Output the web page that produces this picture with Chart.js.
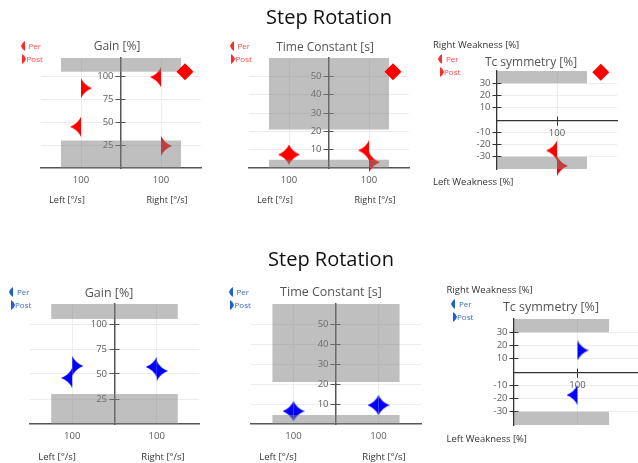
<!DOCTYPE html>
<html>
<head>
<meta charset="utf-8">
<script src="https://cdn.jsdelivr.net/npm/chart.js@4.4.0/dist/chart.umd.min.js"></script>
<style>
body { margin: 0; background: #fff; width: 638px; height: 463px; overflow: hidden; position: relative; font-family: 'Open Sans', sans-serif; }
canvas { position: absolute; }
.t { position: absolute; white-space: nowrap; line-height: 1; }
</style>
</head>
<body>
<script>
// ---- data ----
const sideX = [-1, 1];            // left / right columns
const sideLabels = ['100', '100'];
const symX = [0];
const symLabels = ['100'];

const gainTicks = [25, 50, 75, 100];
const tcTicks = [10, 20, 30, 40, 50];
const symTicks = [30, 20, 10, -10, -20, -30];

const gainNormal = [[0, 30], [105, 120]];
const tcNormal = [[0, 4.5], [21, 60]];
const symNormal = [[-40, -30], [30, 40]];
const boxSpan = [-1.5, 1.5];
const symBoxSpan = [-1, 0.5];

// first session (red)
const gainPerA = [45, 99];
const gainPostA = [87, 24];
const tcPerA = [7.3, 9.6];
const tcPostA = [7.3, 3.1];
const symPerA = [-25];
const symPostA = [-37.5];
const gainFlagA = [{ x: 1.6, y: 105 }];
const tcFlagA = [{ x: 1.6, y: 52.5 }];
const symFlagA = [{ x: 0.73, y: 39 }];

// second session (blue)
const gainPerB = [46, 57];
const gainPostB = [58, 53];
const tcPerB = [6.4, 9.4];
const tcPostB = [6.4, 9.4];
const symPerB = [-17.4];
const symPostB = [16.3];

// ---- helpers ----
const RED = '#ff0000', BLUE = '#0000ff';
const BAND = 'rgba(128,128,128,0.5)';
const FAINT = '#ececec';
const PAD = 30;
const XLAB = 22;   // room kept for the bottom labels
const YLAB = 26;   // room kept for the left labels

Chart.defaults.font.family = "'Open Sans', sans-serif";

function halfStar(color, w, h, dir, k) {
    const c = document.createElement('canvas');
    c.width = 2 * w; c.height = 2 * h;
    const ctx = c.getContext('2d');
    const tipX = dir < 0 ? 0 : 2 * w;
    const cx = w + dir * k * w;
    ctx.fillStyle = color;
    ctx.beginPath();
    ctx.moveTo(w, 0);
    ctx.quadraticCurveTo(cx, h - k * h, tipX, h);
    ctx.quadraticCurveTo(cx, h + k * h, w, 2 * h);
    ctx.closePath();
    ctx.fill();
    return c;
}

function text(str, x, y, size, color, align) {
    const d = document.createElement('div');
    d.className = 't';
    d.textContent = str;
    d.style.left = x + 'px';
    d.style.top = y + 'px';
    d.style.fontSize = size + 'px';
    d.style.color = color;
    d.style.transform = align === 'left' ? 'translate(0,-50%)' : 'translate(-50%,-50%)';
    document.body.appendChild(d);
}

function legend(x, y, icon, txt) {
    const per = halfStar(icon, 4, 5, -1, 0.7);
    const post = halfStar(icon, 4, 5, 1, 0.7);
    per.style.left = (x - 4) + 'px'; per.style.top = (y - 5) + 'px';
    post.style.left = (x - 6.5) + 'px'; post.style.top = (y + 8) + 'px';
    document.body.appendChild(per);
    document.body.appendChild(post);
    text('Per', x + 4, y, 8, txt, 'left');
    text('Post', x + 2, y + 13, 8, txt, 'left');
}

function place(area) {
    const [l, t, w, h] = area;
    const cv = document.createElement('canvas');
    cv.width = w + 2 * PAD;
    cv.height = h + 2 * PAD;
    cv.style.left = (l - PAD) + 'px';
    cv.style.top = (t - PAD) + 'px';
    document.body.appendChild(cv);
    return cv;
}

function bands(ranges, span) {
    return ranges.map(([lo, hi]) => ({
        type: 'line',
        data: [{ x: span[0], y: hi }, { x: span[1], y: hi }],
        fill: { value: lo },
        backgroundColor: BAND,
        borderWidth: 0,
        pointRadius: 0,
        order: 0
    }));
}

function marks(vals, xs, img) {
    return {
        data: vals.map((v, i) => ({ x: xs[i], y: v })),
        pointStyle: img,
        pointRadius: 10,
        showLine: false,
        clip: false,
        order: 1
    };
}

function flag(pts) {
    return { data: pts, pointStyle: 'rectRot', pointRadius: 8.5, backgroundColor: RED, borderWidth: 0, clip: false, order: -1 };
}

const tickFont = { size: 9.5 };
const fixTicks = list => s => { s.ticks = list.map(v => ({ value: v })); };

function baseOptions(padding, scales) {
    return {
        responsive: false,
        animation: false,
        events: [],
        layout: { autoPadding: false, padding },
        plugins: { legend: { display: false }, tooltip: { enabled: false } },
        scales
    };
}

// Gain / Time Constant panel
function speedPanel(area, yMax, ticks, normal, per, post, color, flagPts) {
    const perImg = halfStar(color, 11, 10, -1, 0.3);
    const postImg = halfStar(color, 11, 10, 1, 0.3);
    const datasets = [
        ...bands(normal, boxSpan),
        marks(per, sideX, perImg),
        marks(post, sideX, postImg)
    ];
    if (flagPts) datasets.push(flag(flagPts));
    new Chart(place(area), {
        type: 'scatter',
        data: { datasets },
        options: baseOptions({ left: PAD, right: PAD, top: PAD, bottom: PAD - XLAB }, {
            x: {
                type: 'linear', min: -2, max: 2, position: 'bottom',
                afterFit: s => { s.height = XLAB; },
                afterBuildTicks: fixTicks(sideX),
                ticks: { callback: (v, i) => sideLabels[i], padding: 7, color: '#5a5a5a', font: tickFont, autoSkip: false, maxRotation: 0 },
                grid: { color: FAINT, drawTicks: false },
                border: { color: '#555', width: 1.6 }
            },
            y: {
                type: 'linear', min: 0, max: yMax, position: 'center',
                afterBuildTicks: fixTicks(ticks),
                ticks: { padding: 3, color: '#5a5a5a', font: tickFont, autoSkip: false },
                grid: { color: FAINT, tickColor: '#555', tickLength: 4.5 },
                border: { color: '#555', width: 1.5 }
            },
            y2: {
                type: 'linear', axis: 'y', min: 0, max: yMax, position: 'center',
                afterBuildTicks: fixTicks(ticks),
                ticks: { color: 'transparent', font: tickFont, autoSkip: false },
                grid: { drawOnChartArea: false, tickColor: '#555', tickLength: -4.5 },
                border: { display: false }
            }
        })
    });
}

// Tc symmetry panel
function symPanel(area, per, post, color, flagPts) {
    const perImg = halfStar(color, 11, 10, -1, 0.3);
    const postImg = halfStar(color, 11, 10, 1, 0.3);
    const datasets = [
        ...bands(symNormal, symBoxSpan),
        marks(per, symX, perImg),
        marks(post, symX, postImg)
    ];
    if (flagPts) datasets.push(flag(flagPts));
    new Chart(place(area), {
        type: 'scatter',
        data: { datasets },
        options: baseOptions({ left: PAD - YLAB, right: PAD, top: PAD, bottom: PAD }, {
            x: {
                type: 'linear', min: -1, max: 1, position: 'center',
                afterBuildTicks: fixTicks(symX),
                ticks: { callback: (v, i) => symLabels[i], padding: 3, color: '#5a5a5a', font: tickFont, autoSkip: false, maxRotation: 0 },
                grid: { color: FAINT, tickColor: '#333', tickLength: 4.5 },
                border: { color: '#333', width: 1.3 }
            },
            x2: {
                type: 'linear', axis: 'x', min: -1, max: 1, position: 'center',
                afterBuildTicks: fixTicks(symX),
                ticks: { color: 'transparent', font: tickFont, autoSkip: false, maxRotation: 0 },
                grid: { drawOnChartArea: false, tickColor: '#333', tickLength: -4.5 },
                border: { display: false }
            },
            y: {
                type: 'linear', min: -40, max: 40, position: 'left',
                afterFit: s => { s.width = YLAB; },
                afterBuildTicks: fixTicks(symTicks),
                ticks: { padding: 2, color: '#5a5a5a', font: tickFont, autoSkip: false },
                grid: { color: FAINT, tickColor: '#333', tickLength: 4.5 },
                border: { color: '#333', width: 1.3 }
            },
            y2: {
                type: 'linear', axis: 'y', min: -40, max: 40, position: { x: -1 },
                afterBuildTicks: fixTicks(symTicks),
                ticks: { color: 'transparent', font: tickFont, autoSkip: false },
                grid: { drawOnChartArea: false, tickColor: '#333', tickLength: -4.5 },
                border: { display: false }
            }
        })
    });
}

// ---- first session ----
speedPanel([41, 58, 160, 110], 120, gainTicks, gainNormal, gainPerA, gainPostA, RED, gainFlagA);
speedPanel([249, 58, 160, 110], 60, tcTicks, tcNormal, tcPerA, tcPostA, RED, tcFlagA);
symPanel([497, 71, 120, 98], symPerA, symPostA, RED, symFlagA);

// ---- second session ----
speedPanel([30, 304, 169, 120], 120, gainTicks, gainNormal, gainPerB, gainPostB, BLUE, null);
speedPanel([251, 304, 170, 120], 60, tcTicks, tcNormal, tcPerB, tcPostB, BLUE, null);
symPanel([514, 319, 127, 106], symPerB, symPostB, BLUE, null);

// ---- texts ----
text('Step Rotation', 329, 17, 20, '#111');
text('Step Rotation', 331, 259, 20, '#111');

text('Gain [%]', 117, 46, 12, '#555');
text('Time Constant [s]', 325, 46.5, 12, '#555');
text('Tc symmetry [%]', 531, 61.5, 12, '#555');
text('Gain [%]', 109, 292.5, 12.5, '#555');
text('Time Constant [s]', 331, 291.5, 12.5, '#555');
text('Tc symmetry [%]', 551, 306.5, 12.5, '#555');

text('Right Weakness [%]', 433, 44.5, 9.5, '#333', 'left');
text('Left Weakness [%]', 433, 181.5, 9.5, '#333', 'left');
text('Right Weakness [%]', 446.5, 289.5, 9.5, '#333', 'left');
text('Left Weakness [%]', 446.5, 438.5, 9.5, '#333', 'left');

text('Left [°/s]', 67, 199, 9, '#333');
text('Right [°/s]', 167, 199, 9, '#333');
text('Left [°/s]', 275, 199, 9, '#333');
text('Right [°/s]', 375, 199, 9, '#333');
text('Left [°/s]', 57, 456.5, 9.5, '#333');
text('Right [°/s]', 163, 456.5, 9.5, '#333');
text('Left [°/s]', 278, 456.5, 9.5, '#333');
text('Right [°/s]', 384, 456.5, 9.5, '#333');

legend(24.5, 46, '#ff2a2a', '#ff4a4a');
legend(233.5, 46, '#ff2a2a', '#ff4a4a');
legend(442, 58.5, '#ff2a2a', '#ff4a4a');
legend(13, 291.5, '#1f5fd0', '#3a6fc0');
legend(232.5, 291.5, '#1f5fd0', '#3a6fc0');
legend(455, 303.5, '#1f5fd0', '#3a6fc0');
</script>
</body>
</html>
